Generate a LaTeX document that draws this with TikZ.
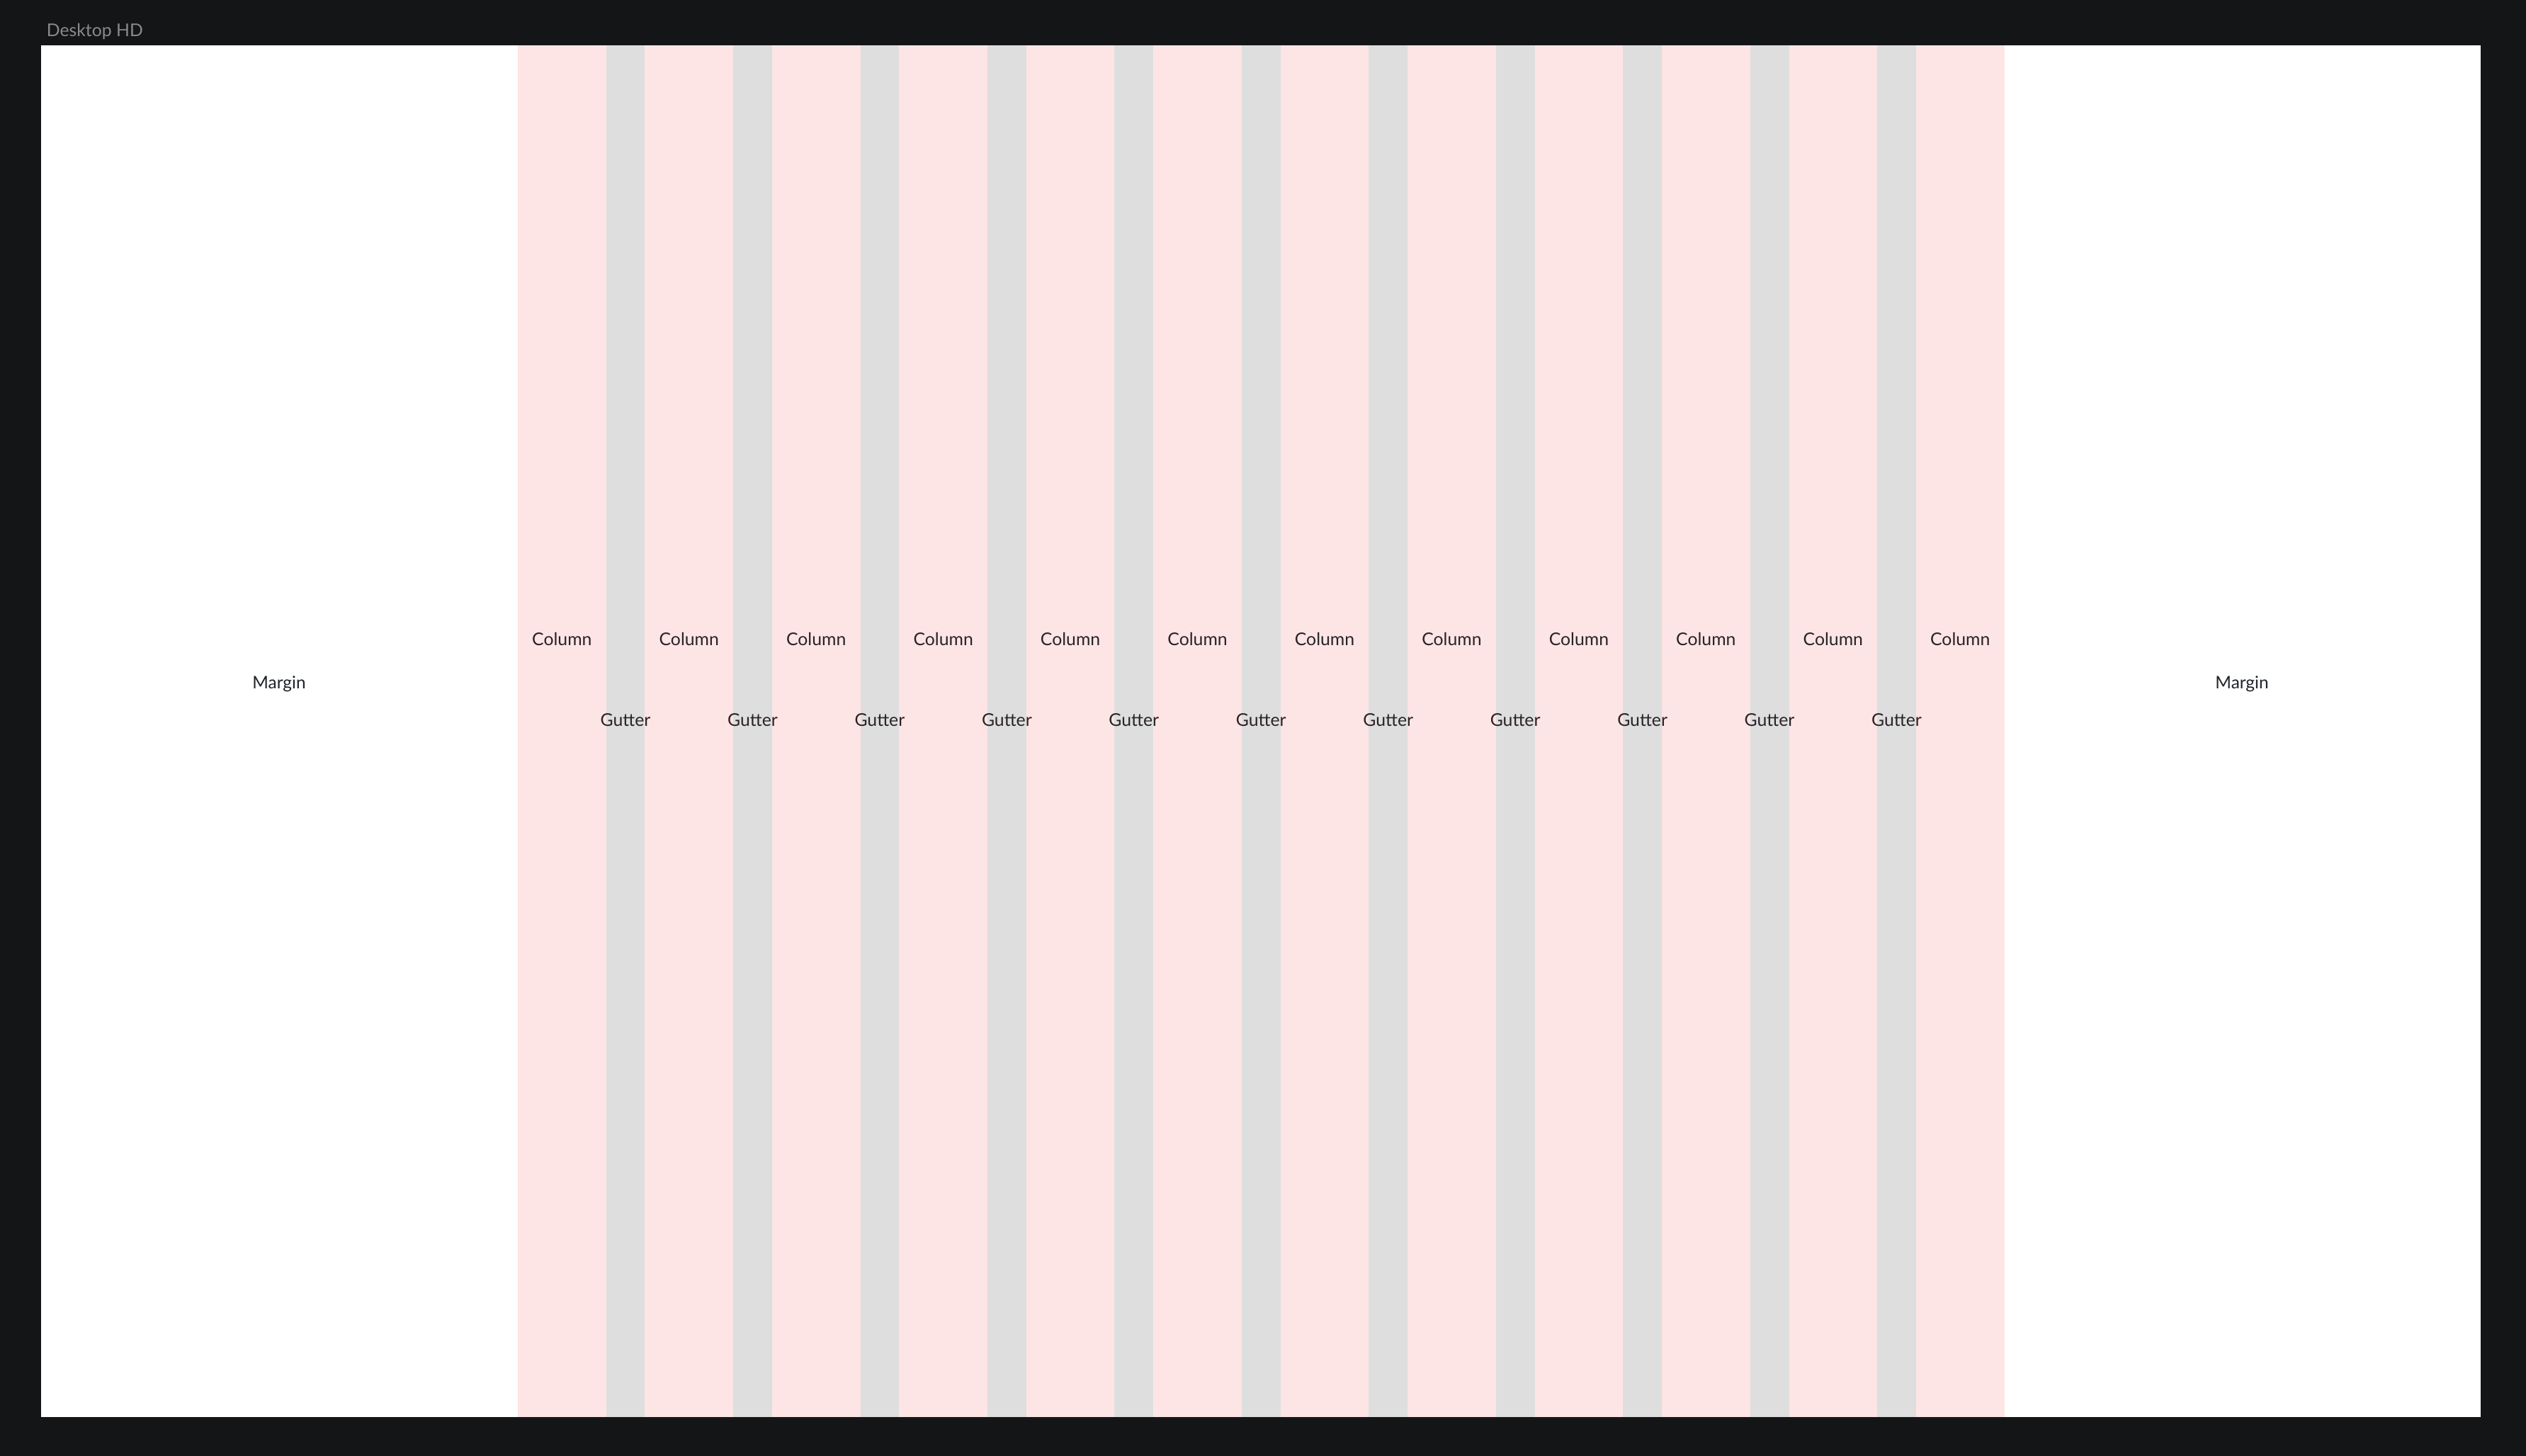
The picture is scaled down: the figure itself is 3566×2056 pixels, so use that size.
\documentclass[tikz,border=0pt]{standalone}
\usepackage{fontspec}
\setmainfont{Lato}
\definecolor{bgdark}{HTML}{141517}
\definecolor{colpink}{HTML}{FDE5E5}
\definecolor{gutgrey}{HTML}{DEDEDE}
\definecolor{titlegrey}{HTML}{8A8A8A}
\definecolor{labeltext}{HTML}{2A2328}
\definecolor{margintext}{HTML}{1F2329}
\begin{document}
\begin{tikzpicture}[x=0.25pt,y=-0.25pt,
  colbox/.style={fill=colpink,draw=none},
  gutbox/.style={fill=gutgrey,draw=none},
  lbl/.style={font=\fontsize{6.2}{8}\selectfont,text=labeltext,inner sep=0pt},
  marginlbl/.style={font=\fontsize{6.1}{8}\selectfont,text=margintext,inner sep=0pt}]
  \fill[bgdark] (0,0) rectangle (3566,2056);
  \useasboundingbox (0,0) rectangle (3566,2056);
  \node[anchor=base west,font=\fontsize{6.2}{8}\selectfont,text=titlegrey,inner sep=0pt] (title) at (65,51) {Desktop HD};
  \fill[white] (58,64) rectangle (3502,2001);
  \foreach \i in {0,...,11}{
    \pgfmathsetmacro{\xl}{731+\i*179.45}
    \pgfmathsetmacro{\xr}{\xl+124.6}
    \fill[colpink] (\xl,64) rectangle (\xr,2001);
  }
  \foreach \i in {0,...,10}{
    \pgfmathsetmacro{\gl}{855.6+\i*179.45}
    \pgfmathsetmacro{\gr}{\gl+54.85}
    \fill[gutgrey] (\gl,64) rectangle (\gr,2001);
  }
  \foreach \i in {0,...,11}{
    \pgfmathsetmacro{\xc}{731+62.3+\i*179.45}
    \node[lbl] (col\i) at (\xc,902) {Column};
  }
  \foreach \i in {0,...,10}{
    \pgfmathsetmacro{\gc}{855.6+27.4+\i*179.45}
    \node[lbl] (gut\i) at (\gc,1017) {Gutter};
  }
  \node[marginlbl] (marginL) at (394,966) {Margin};
  \node[marginlbl] (marginR) at (3165,966) {Margin};
\end{tikzpicture}
\end{document}
